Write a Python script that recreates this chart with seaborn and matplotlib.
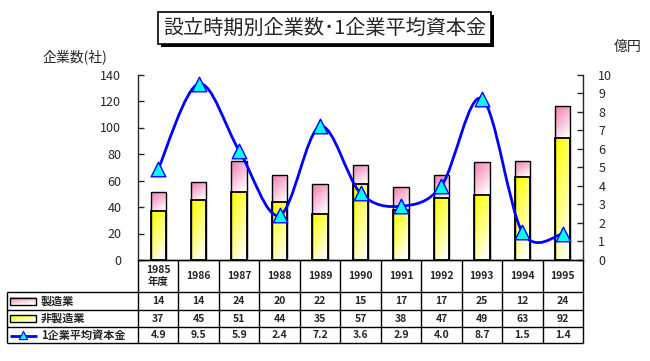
import numpy as np
import matplotlib
matplotlib.use("Agg")
import matplotlib.pyplot as plt
import seaborn as sns
from matplotlib.path import Path
from matplotlib.patches import PathPatch, Rectangle

# data
years = ["1985", "1986", "1987", "1988", "1989", "1990", "1991", "1992", "1993", "1994", "1995"]
year_labels = ["1985\n年度"] + years[1:]
manuf = [14, 14, 24, 20, 22, 15, 17, 17, 25, 12, 24]
non_manuf = [37, 45, 51, 44, 35, 57, 38, 47, 49, 63, 92]
avg_capital = [4.9, 9.5, 5.9, 2.4, 7.2, 3.6, 2.9, 4.0, 8.7, 1.5, 1.4]
row_names = ["製造業", "非製造業", "1企業平均資本金"]

title = "設立時期別企業数･1企業平均資本金"
ylabel_left = "企業数(社)"
ylabel_right = "億円"

sns.set_style("white")
plt.rcParams['font.family'] = ['Noto Sans CJK JP', 'DejaVu Sans']

W, H = 650, 361
fig = plt.figure(figsize=(W / 100, H / 100), dpi=100)


def fx(px):
    return px / W


def fy(py):
    return 1 - py / H


left_px, right_px, top_px, bot_px = 138, 583, 74.5, 260
ax = fig.add_axes([fx(left_px), fy(bot_px), fx(right_px) - fx(left_px), fy(top_px) - fy(bot_px)])

totals = [a + b for a, b in zip(manuf, non_manuf)]
sns.barplot(x=years, y=totals, ax=ax, color="#f080b0", width=0.38,
            edgecolor="black", linewidth=1, saturation=1)
n_pink = len(ax.patches)
sns.barplot(x=years, y=non_manuf, ax=ax, color="#ffff00", width=0.38,
            edgecolor="black", linewidth=1.3, saturation=1)

ax.set_xlim(-0.5, len(years) - 0.5)
ax.set_ylim(0, 140)
ax.set_yticks(range(0, 141, 20))
ax.set_xlabel("")
ax.set_ylabel("")
ax.tick_params(axis="x", bottom=False, labelbottom=False)
ax.tick_params(axis="y", direction="in", length=4, width=1, labelsize=9, pad=12, left=True)
for s in ["top", "right"]:
    ax.spines[s].set_visible(False)
ax.spines["left"].set_linewidth(1)
ax.spines["bottom"].set_linewidth(1)


def gradient(rgb):
    n = 64
    v = np.linspace(0, 1, n)[:, None]
    h = np.linspace(0, 1, n)[None, :]
    t = np.clip(0.7 * v + 0.4 * h, 0, 1) ** 1.1
    img = np.ones((n, n, 3))
    for k in range(3):
        img[:, :, k] = rgb[k] * (1 - t) + 1.0 * t
    return img


pink_img = gradient((0.94, 0.50, 0.70))
yellow_img = gradient((1.0, 1.0, 0.0))
for i, p in enumerate(ax.patches):
    x0, y0 = p.get_x(), p.get_y()
    w, h = p.get_width(), p.get_height()
    if i < n_pink:
        # pink only needs to show above the yellow part
        img = pink_img
        y0 = non_manuf[i]
        h = totals[i] - non_manuf[i]
    else:
        img = yellow_img
    im = ax.imshow(img, extent=(x0, x0 + w, y0, y0 + h), aspect="auto",
                   origin="upper", zorder=p.get_zorder() - 0.1, interpolation="bilinear")
    im.set_clip_path(p)
    p.set_facecolor("none")
ax.set_xlim(-0.5, len(years) - 0.5)
ax.set_ylim(0, 140)

# secondary axis with smoothed line
ax2 = ax.twinx()
ax2.set_ylim(0, 10)
ax2.set_yticks(range(0, 11))
ax2.tick_params(axis="y", direction="in", length=4, width=1, labelsize=9, pad=11, right=True)
for s in ["top", "left", "bottom"]:
    ax2.spines[s].set_visible(False)
ax2.spines["right"].set_linewidth(1)

xs = np.arange(len(years), dtype=float)
ys = np.array(avg_capital, dtype=float)
verts = [(xs[0], ys[0])]
codes = [Path.MOVETO]
for i in range(len(xs) - 1):
    p0 = np.array([xs[max(i - 1, 0)], ys[max(i - 1, 0)]])
    p1 = np.array([xs[i], ys[i]])
    p2 = np.array([xs[i + 1], ys[i + 1]])
    p3 = np.array([xs[min(i + 2, len(xs) - 1)], ys[min(i + 2, len(xs) - 1)]])
    c1 = p1 + (p2 - p0) / 6
    c2 = p2 - (p3 - p1) / 6
    verts += [tuple(c1), tuple(c2), tuple(p2)]
    codes += [Path.CURVE4] * 3
ax2.add_patch(PathPatch(Path(verts, codes), facecolor="none", edgecolor="#0000ff", lw=2, zorder=3))
sns.scatterplot(x=xs, y=ys, ax=ax2, marker="^", s=110, color="#00ffff",
                edgecolor="#0000ff", linewidth=1, zorder=4, legend=False)
ax2.set_xlim(-0.5, len(years) - 0.5)
ax2.set_ylabel("")

# overlay for title, axis captions and data table
ov = fig.add_axes([0, 0, 1, 1], zorder=5)
ov.set_xlim(0, W)
ov.set_ylim(H, 0)
ov.axis("off")
ov.patch.set_alpha(0)

ov.add_patch(Rectangle((161, 15), 333, 32, facecolor="black", edgecolor="black", lw=0))
ov.add_patch(Rectangle((158, 12), 333, 32, facecolor="white", edgecolor="black", lw=1.2))
ov.text(324.5, 28.5, title, ha="center", va="center", fontsize=14.5)

ov.text(75, 57, ylabel_left, ha="center", va="center", fontsize=10)
ov.text(628, 47, ylabel_right, ha="center", va="center", fontsize=10)

# table
col_w = (right_px - left_px) / len(years)
col_edges = [left_px + i * col_w for i in range(len(years) + 1)]
row_y = [260, 292, 310, 327, 343]
lab_x0 = 7
lc = "black"
ov.hlines(row_y[0], left_px, right_px, color=lc, lw=1)
for y in row_y[1:]:
    ov.hlines(y, lab_x0, right_px, color=lc, lw=1)
ov.vlines(lab_x0, row_y[1], row_y[-1], color=lc, lw=1)
for x in col_edges:
    ov.vlines(x, row_y[0], row_y[-1], color=lc, lw=1)

tab_kw = dict(ha="center", va="center", fontsize=7.5, fontweight="bold")
for i, lab in enumerate(year_labels):
    ov.text(col_edges[i] + col_w / 2, (row_y[0] + row_y[1]) / 2, lab, linespacing=1.3, **tab_kw)
rows = [[str(v) for v in manuf], [str(v) for v in non_manuf], [f"{v:.1f}" for v in avg_capital]]
for r, vals in enumerate(rows):
    yc = (row_y[r + 1] + row_y[r + 2]) / 2
    for i, v in enumerate(vals):
        ov.text(col_edges[i] + col_w / 2, yc, v, **tab_kw)
    ov.text(41, yc, row_names[r], ha="left", va="center", fontsize=8, fontweight="bold")

# legend keys inside the table
sw_x0, sw_x1 = 10, 36
for r, img in enumerate([pink_img, yellow_img]):
    yc = (row_y[r + 1] + row_y[r + 2]) / 2
    ov.imshow(img, extent=(sw_x0, sw_x1, yc + 3.5, yc - 3.5),
              aspect="auto", origin="upper", zorder=2)
    ov.add_patch(Rectangle((sw_x0, yc - 3.5), sw_x1 - sw_x0, 7, facecolor="none",
                           edgecolor="black", lw=1, zorder=3))
yc = (row_y[3] + row_y[4]) / 2
ov.hlines(yc + 0.5, 10, 37, color="#0000ff", lw=2)
ov.scatter([23], [yc - 0.5], marker="^", s=35, color="#00ffff", edgecolor="#0000ff", lw=0.8, zorder=4)
ov.set_xlim(0, W)
ov.set_ylim(H, 0)

fig.savefig("out.png", dpi=100, facecolor="white")
